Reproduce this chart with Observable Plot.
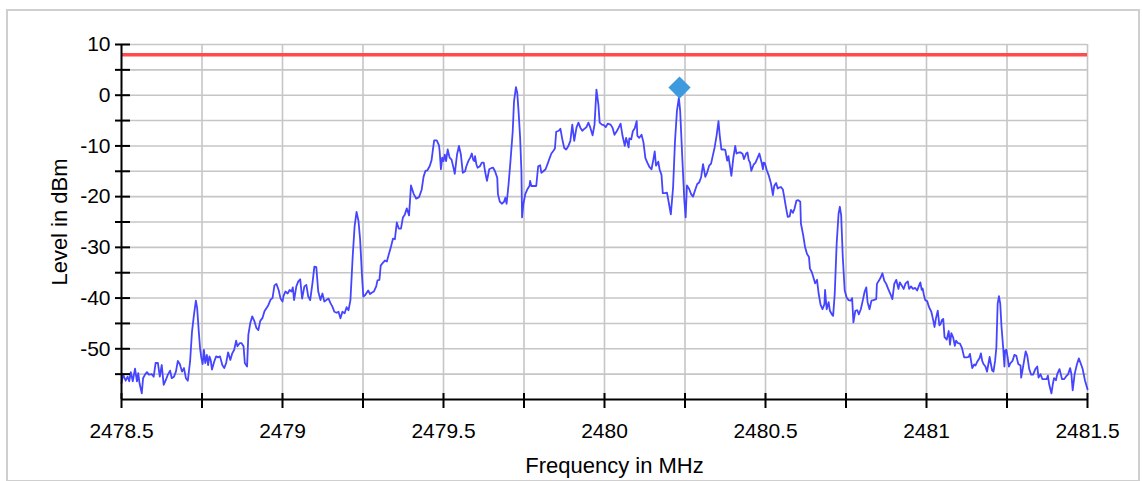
<!DOCTYPE html>
<html><head><meta charset="utf-8">
<script src="https://cdn.jsdelivr.net/npm/d3@7"></script>
<script src="https://cdn.jsdelivr.net/npm/@observablehq/plot@0.6"></script>
<style>
body{margin:0;background:#fff;font-family:"Liberation Sans",Arial,sans-serif;}
#wrap{position:relative;width:1142px;height:481px;overflow:hidden;}
#wrap svg{position:absolute;left:0;top:0;}
#border{position:absolute;left:6px;top:9px;width:1130px;height:469px;border:2px solid #cfcfcf;pointer-events:none;}
</style></head><body><div id="wrap"><div id="border"></div></div>
<script>
// Spectrum trace: [frequency in MHz, level in dBm]
const spectrum = [
[2478.500,-56.8],[2478.505,-55.1],[2478.513,-56.3],[2478.519,-55.5],[2478.524,-56.4],[2478.529,-54.6],[2478.535,-56.4],[2478.542,-53.9],[2478.548,-56.4],[2478.552,-54.8],
[2478.556,-56.8],[2478.563,-58.8],[2478.567,-55.8],[2478.573,-55.1],[2478.579,-54.6],[2478.585,-55.1],[2478.594,-55.0],[2478.600,-55.5],[2478.606,-52.8],[2478.613,-52.8],
[2478.619,-55.5],[2478.625,-53.2],[2478.631,-57.1],[2478.638,-56.1],[2478.644,-55.1],[2478.651,-54.3],[2478.656,-55.8],[2478.663,-55.5],[2478.669,-54.5],[2478.675,-52.4],
[2478.681,-53.0],[2478.688,-54.5],[2478.694,-53.8],[2478.700,-55.8],[2478.706,-56.3],[2478.713,-52.5],[2478.719,-46.6],[2478.725,-43.3],[2478.731,-40.5],[2478.735,-42.0],
[2478.740,-46.6],[2478.744,-49.9],[2478.748,-51.8],[2478.752,-53.0],[2478.756,-50.2],[2478.760,-52.8],[2478.765,-51.2],[2478.769,-53.2],[2478.773,-51.5],[2478.777,-52.2],
[2478.781,-54.1],[2478.788,-52.5],[2478.794,-51.5],[2478.800,-51.7],[2478.806,-51.5],[2478.813,-53.2],[2478.819,-53.8],[2478.825,-52.8],[2478.831,-50.7],[2478.838,-52.2],
[2478.844,-50.9],[2478.850,-50.2],[2478.856,-48.4],[2478.860,-49.5],[2478.867,-48.9],[2478.873,-48.9],[2478.879,-49.5],[2478.883,-52.8],[2478.890,-53.5],[2478.894,-47.2],
[2478.900,-44.9],[2478.906,-43.6],[2478.913,-44.6],[2478.919,-45.9],[2478.925,-46.3],[2478.931,-44.5],[2478.938,-43.9],[2478.944,-42.6],[2478.950,-42.0],[2478.956,-41.4],
[2478.963,-40.3],[2478.969,-40.0],[2478.975,-37.5],[2478.981,-37.2],[2478.988,-38.4],[2478.994,-40.1],[2479.000,-40.7],
[2479.003,-39.6],[2479.009,-38.7],[2479.016,-39.1],[2479.022,-38.4],[2479.028,-38.7],[2479.032,-37.9],[2479.036,-40.4],[2479.043,-37.7],[2479.049,-36.7],[2479.055,-36.3],
[2479.061,-40.1],[2479.068,-37.7],[2479.074,-37.4],[2479.080,-39.7],[2479.086,-40.4],[2479.093,-37.1],[2479.099,-33.8],[2479.105,-33.9],[2479.111,-38.7],[2479.118,-40.4],
[2479.124,-39.1],[2479.130,-40.7],[2479.136,-40.4],[2479.143,-40.1],[2479.149,-41.0],[2479.155,-41.7],[2479.161,-42.7],[2479.168,-42.9],[2479.174,-42.7],[2479.180,-44.0],
[2479.186,-42.7],[2479.193,-43.0],[2479.199,-41.8],[2479.205,-42.4],[2479.211,-40.4],[2479.218,-31.8],[2479.224,-25.8],[2479.230,-23.0],[2479.236,-24.8],[2479.241,-28.4],
[2479.247,-35.7],[2479.251,-39.7],[2479.257,-39.4],[2479.266,-38.5],[2479.272,-39.2],[2479.278,-38.9],[2479.284,-38.7],[2479.291,-37.7],[2479.295,-36.5],[2479.301,-36.4],
[2479.305,-33.6],[2479.311,-33.1],[2479.318,-32.6],[2479.324,-32.8],[2479.330,-31.4],[2479.336,-30.1],[2479.343,-28.3],[2479.349,-28.4],[2479.355,-25.1],[2479.361,-26.3],
[2479.368,-26.3],[2479.374,-24.1],[2479.380,-23.5],[2479.386,-22.3],[2479.393,-23.7],
[2479.399,-17.8],[2479.407,-19.4],[2479.415,-20.4],[2479.424,-20.1],[2479.432,-18.7],[2479.438,-16.1],[2479.444,-14.9],[2479.450,-14.8],[2479.457,-14.0],[2479.463,-12.8],
[2479.467,-10.8],[2479.471,-8.9],[2479.479,-8.9],[2479.486,-9.9],
[2479.488,-11.0],[2479.492,-14.6],[2479.496,-12.3],[2479.500,-13.0],[2479.504,-11.7],[2479.508,-13.0],[2479.513,-10.7],[2479.519,-12.3],[2479.525,-12.7],[2479.531,-14.3],
[2479.535,-15.5],[2479.542,-11.7],[2479.548,-10.0],[2479.554,-11.7],[2479.560,-15.3],[2479.567,-15.0],[2479.571,-14.0],[2479.577,-13.0],[2479.583,-12.3],[2479.588,-11.5],
[2479.592,-12.7],[2479.596,-13.0],[2479.598,-12.0],[2479.602,-13.6],[2479.606,-14.3],[2479.613,-14.0],[2479.619,-13.3],[2479.625,-13.3],[2479.629,-15.0],[2479.635,-16.9],
[2479.642,-14.6],[2479.648,-14.4],[2479.654,-14.3],[2479.660,-15.0],[2479.667,-16.3],[2479.669,-19.5],[2479.675,-21.0],[2479.681,-21.4],[2479.688,-21.0],[2479.692,-20.2],
[2479.696,-21.4],[2479.702,-17.6],[2479.708,-13.0],[2479.715,-7.1],[2479.719,-1.2],[2479.725,1.6],[2479.729,0.5],[2479.733,-3.1],[2479.738,-8.4],[2479.742,-15.0],
[2479.744,-24.1],[2479.748,-21.5],[2479.754,-19.5],[2479.760,-18.6],[2479.767,-17.9],[2479.769,-16.9],[2479.773,-17.9],[2479.779,-17.9],[2479.788,-17.9],[2479.794,-14.0],
[2479.800,-13.8],[2479.804,-15.3],[2479.810,-15.0],[2479.817,-14.6],[2479.823,-13.6],[2479.829,-12.5],[2479.835,-11.5],[2479.842,-10.9],[2479.846,-10.5],[2479.850,-7.2],
[2479.858,-7.0],[2479.863,-6.6],[2479.869,-8.7],[2479.875,-10.4],[2479.881,-10.7],[2479.888,-10.0],[2479.894,-9.0],[2479.900,-5.8],[2479.906,-9.0],[2479.913,-6.4],
[2479.919,-5.4],[2479.925,-6.4],[2479.931,-7.0],[2479.938,-6.6],[2479.944,-6.3],[2479.950,-5.4],[2479.956,-6.4],[2479.963,-7.9],[2479.969,-5.8],[2479.975,1.1],
[2479.981,-1.8],[2479.985,-5.4],
[2479.992,-5.8],[2479.998,-5.9],[2480.004,-6.3],[2480.010,-5.6],[2480.019,-5.8],[2480.025,-6.4],[2480.031,-7.8],[2480.038,-7.1],[2480.044,-6.4],[2480.050,-5.6],
[2480.056,-8.0],[2480.063,-10.0],[2480.067,-8.4],[2480.071,-9.3],[2480.075,-10.3],[2480.077,-8.5],[2480.083,-8.7],[2480.088,-7.1],[2480.094,-6.5],[2480.100,-5.1],
[2480.102,-8.0],[2480.108,-8.4],[2480.115,-7.8],[2480.121,-9.3],[2480.127,-12.4],[2480.133,-13.3],[2480.140,-14.2],[2480.146,-14.6],[2480.152,-12.6],[2480.156,-11.1],
[2480.160,-13.9],[2480.167,-13.1],[2480.171,-14.6],[2480.177,-15.7],[2480.181,-19.3],[2480.188,-19.3],[2480.194,-19.2],[2480.200,-21.3],[2480.206,-23.5],[2480.213,-18.2],
[2480.219,-9.0],[2480.225,-3.1],[2480.231,-0.5],[2480.235,-3.1],[2480.242,-12.9],[2480.248,-20.8],[2480.252,-24.1],[2480.256,-17.8],[2480.263,-18.5],[2480.269,-19.5],
[2480.275,-20.0],[2480.281,-18.8],[2480.288,-17.5],[2480.294,-17.2],[2480.300,-16.2],[2480.306,-13.6],[2480.313,-16.1],[2480.319,-15.2],[2480.325,-13.9],[2480.331,-13.5],
[2480.335,-12.3],[2480.342,-10.3],[2480.348,-8.0],[2480.354,-5.1],[2480.358,-8.0],[2480.363,-10.7],[2480.369,-10.7],[2480.375,-10.8],[2480.381,-12.9],[2480.385,-12.0],
[2480.390,-14.2],[2480.394,-15.9],[2480.400,-12.4],[2480.406,-10.0],[2480.410,-11.5],[2480.417,-11.3],[2480.423,-11.3],[2480.429,-11.6],[2480.433,-12.6],[2480.440,-11.5],
[2480.444,-11.3],[2480.448,-12.8],[2480.452,-13.3],[2480.456,-14.9],[2480.463,-13.7],[2480.469,-13.3],[2480.475,-12.4],[2480.481,-11.5],[2480.488,-13.3],[2480.492,-14.6],
[2480.494,-13.3],[2480.498,-13.4],[2480.504,-14.8],[2480.510,-15.8],[2480.517,-17.4],[2480.523,-19.7],[2480.527,-17.9],[2480.533,-17.3],[2480.538,-18.4],[2480.542,-18.2],
[2480.548,-18.1],[2480.554,-18.6],[2480.558,-20.0],[2480.563,-21.9],[2480.569,-24.0],[2480.575,-23.9],[2480.579,-22.6],[2480.585,-23.2],[2480.590,-22.4],[2480.596,-20.8],
[2480.602,-20.7],[2480.608,-21.0],[2480.610,-25.3],[2480.617,-27.6],[2480.623,-30.0],[2480.629,-31.3],[2480.635,-31.9],[2480.638,-34.2],[2480.644,-34.9],[2480.650,-36.2],
[2480.654,-37.1],[2480.660,-36.4],[2480.665,-39.1],[2480.671,-41.3],[2480.677,-42.2],[2480.683,-41.2],[2480.685,-38.4],[2480.690,-42.2],[2480.696,-40.8],[2480.700,-42.5],
[2480.706,-43.2],[2480.710,-43.5],[2480.715,-39.2],[2480.721,-29.3],[2480.727,-23.3],[2480.731,-22.0],[2480.735,-23.7],[2480.740,-31.9],[2480.746,-38.5],[2480.752,-39.9],
[2480.758,-40.4],[2480.765,-40.5],[2480.769,-40.0],[2480.773,-44.8],[2480.779,-42.5],[2480.785,-42.4],[2480.790,-43.2],[2480.796,-42.2],[2480.802,-40.5],[2480.808,-38.7],
[2480.813,-37.9],[2480.817,-40.8],[2480.823,-42.2],[2480.829,-40.5],[2480.835,-40.4],[2480.844,-40.2],[2480.846,-37.2],[2480.852,-36.6],[2480.858,-35.9],[2480.863,-35.1],
[2480.869,-36.6],[2480.875,-37.2],[2480.881,-38.2],[2480.888,-39.2],[2480.894,-40.2],[2480.900,-37.2],[2480.906,-36.4],[2480.913,-38.2],[2480.917,-36.9],[2480.923,-37.5],
[2480.929,-38.2],[2480.935,-37.1],[2480.942,-36.7],[2480.946,-38.2],[2480.952,-37.7],[2480.958,-38.2],[2480.965,-38.0],[2480.971,-38.5],[2480.977,-37.5],[2480.981,-36.9],
[2480.985,-38.4],
[2480.988,-38.1],[2480.992,-39.4],[2480.996,-40.4],[2481.002,-40.6],[2481.008,-41.8],[2481.015,-42.7],[2481.021,-44.4],[2481.025,-45.7],[2481.029,-44.1],[2481.035,-42.5],
[2481.040,-45.4],[2481.044,-45.1],[2481.048,-44.3],[2481.052,-44.1],[2481.056,-47.7],[2481.063,-48.2],[2481.069,-46.5],[2481.073,-49.2],[2481.077,-46.9],[2481.083,-47.8],
[2481.088,-49.4],[2481.092,-48.4],[2481.098,-48.9],[2481.104,-49.0],[2481.110,-49.8],[2481.117,-51.7],[2481.125,-51.7],[2481.131,-51.6],[2481.135,-51.0],[2481.142,-53.8],
[2481.148,-53.1],[2481.152,-53.3],[2481.158,-52.5],[2481.165,-51.8],[2481.169,-50.9],[2481.173,-52.4],[2481.177,-53.0],[2481.183,-53.5],[2481.188,-54.5],[2481.192,-53.1],
[2481.196,-51.6],[2481.200,-53.0],[2481.204,-54.3],[2481.208,-54.5],[2481.213,-52.4],[2481.217,-49.7],[2481.221,-41.1],[2481.225,-39.6],[2481.229,-41.1],[2481.233,-45.7],
[2481.238,-49.7],[2481.242,-53.5],[2481.244,-50.4],[2481.248,-50.2],[2481.252,-51.7],[2481.256,-53.5],[2481.260,-52.9],[2481.267,-52.4],[2481.273,-51.2],[2481.279,-51.4],
[2481.285,-53.0],[2481.292,-53.3],[2481.294,-55.7],[2481.298,-54.3],[2481.304,-52.0],[2481.308,-50.5],[2481.313,-51.4],[2481.319,-54.0],[2481.325,-55.1],[2481.331,-55.1],
[2481.338,-54.0],[2481.344,-53.5],[2481.348,-55.7],[2481.354,-55.0],[2481.360,-56.0],[2481.367,-56.0],[2481.373,-56.0],[2481.377,-55.3],[2481.381,-57.0],[2481.388,-58.8],
[2481.392,-57.1],[2481.396,-55.8],[2481.402,-56.2],[2481.406,-55.0],[2481.413,-54.0],[2481.417,-55.0],[2481.421,-56.0],[2481.427,-56.0],[2481.433,-55.5],[2481.440,-55.0],
[2481.446,-53.8],[2481.450,-55.0],[2481.454,-58.2],[2481.460,-55.0],[2481.467,-53.1],[2481.473,-51.9],[2481.479,-52.9],[2481.485,-54.0],[2481.492,-56.2],[2481.500,-58.0]
];
const limitLevel = 8;                       // limit line, dBm
const markerFreq = 2480.233;                // peak marker
const markerLevel = 1.5;
const xDomain = [2478.5, 2481.5];
const yDomain = [-60, 10];
const xLabelTicks = [2478.5, 2479, 2479.5, 2480, 2480.5, 2481, 2481.5];
const xMinorTicks = [2478.5, 2478.75, 2479, 2479.25, 2479.5, 2479.75, 2480, 2480.25, 2480.5, 2480.75, 2481, 2481.25, 2481.5];
const yLabelTicks = [-50, -40, -30, -20, -10, 0, 10];
const yMinorTicks = [-55, -50, -45, -40, -35, -30, -25, -20, -15, -10, -5, 0, 5, 10];
const xGrid = [2478.75, 2479, 2479.25, 2479.5, 2479.75, 2480, 2480.25, 2480.5, 2480.75, 2481, 2481.25, 2481.5];
const yGrid = [-55, -50, -45, -40, -35, -30, -25, -20, -15, -10, -5, 0, 5, 10];

const data = spectrum.map(([f, v]) => ({f, v}));
const fmt = d => String(d);

const chart = Plot.plot({
  width: 1142, height: 481,
  marginLeft: 121, marginRight: 55, marginTop: 44, marginBottom: 82,
  x: {domain: xDomain, axis: null},
  y: {domain: yDomain, axis: null},
  style: {fontFamily: "'Liberation Sans', Arial, sans-serif", fontSize: "21px", color: "#000", background: "transparent", overflow: "visible"},
  marks: [
    Plot.ruleX(xGrid, {stroke: "#c6c6c6", strokeWidth: 1.6}),
    Plot.ruleY(yGrid, {stroke: "#c6c6c6", strokeWidth: 1.6}),
    Plot.ruleY([limitLevel], {stroke: "#ff4b4b", strokeWidth: 3.5}),
    Plot.line(data, {x: "f", y: "v", stroke: "#4545ff", strokeWidth: 1.8}),
    Plot.dot([{f: markerFreq, v: markerLevel}], {x: "f", y: "v", symbol: "diamond2", r: 10, fill: "#3d9ade", stroke: "none"}),
    Plot.ruleX([xDomain[0]], {stroke: "#000", strokeWidth: 2}),
    Plot.ruleY([yDomain[0]], {stroke: "#000", strokeWidth: 2}),
    Plot.axisY({ticks: yMinorTicks, tickSize: 15, dx: 9, tickFormat: () => "", strokeWidth: 2, label: null}),
    Plot.axisY({ticks: yLabelTicks, tickSize: 0, tickPadding: 11, tickFormat: fmt, fontSize: 21, label: null}),
    Plot.axisX({ticks: xMinorTicks, tickSize: 15, dy: -6, tickFormat: () => "", strokeWidth: 2, label: null}),
    Plot.axisX({ticks: xLabelTicks, tickSize: 0, tickPadding: 24, tickFormat: fmt, fontSize: 21, label: null}),
    Plot.text(["Level in dBm"], {frameAnchor: "left", textAnchor: "middle", lineAnchor: "middle", rotate: -90, dx: -62, fontSize: 22}),
    Plot.text(["Frequency in MHz"], {frameAnchor: "bottom", textAnchor: "middle", lineAnchor: "middle", dy: 66, dx: 10, fontSize: 22})
  ]
});
document.getElementById("wrap").prepend(chart);
</script>
</body></html>
